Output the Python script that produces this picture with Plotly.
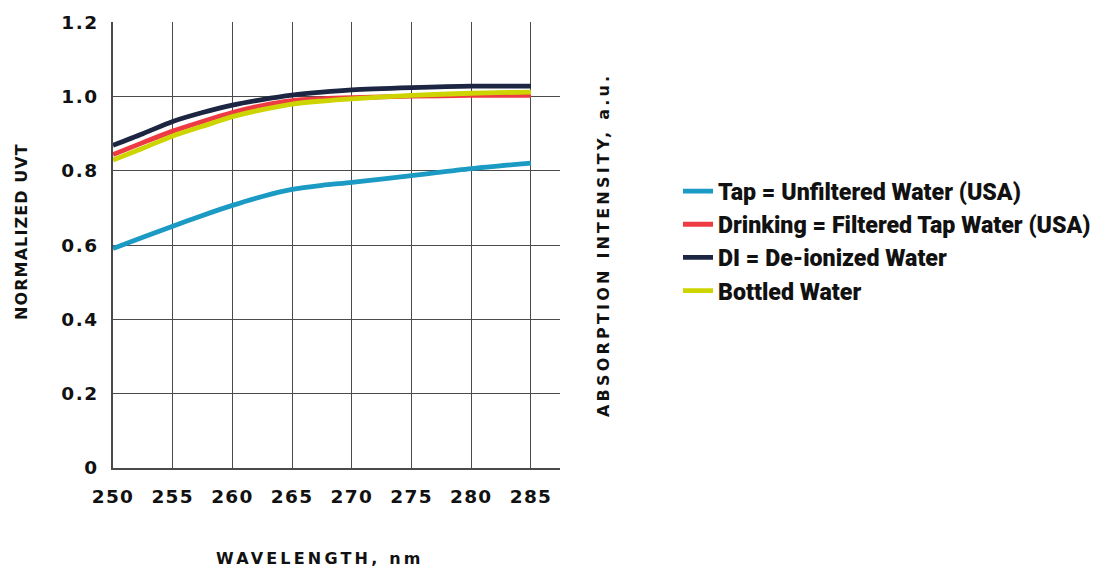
import plotly.graph_objects as go

wavelength = [250, 252.5, 255, 257.5, 260, 262.5, 265, 267.5, 270, 275, 280, 285]
tap = [0.591, 0.621, 0.651, 0.680, 0.707, 0.731, 0.750, 0.761, 0.769, 0.787, 0.806, 0.821]
drinking = [0.844, 0.876, 0.907, 0.933, 0.957, 0.976, 0.989, 0.994, 0.997, 1.001, 1.003, 1.003]
di = [0.869, 0.900, 0.933, 0.957, 0.977, 0.992, 1.004, 1.012, 1.018, 1.024, 1.028, 1.028]
bottled = [0.829, 0.861, 0.894, 0.920, 0.946, 0.965, 0.980, 0.988, 0.994, 1.003, 1.009, 1.012]

series_names = [
    "Tap = Unfiltered Water (USA)",
    "Drinking = Filtered Tap Water (USA)",
    "DI = De-ionized Water",
    "Bottled Water",
]
series_values = [tap, drinking, di, bottled]
series_colors = ["#1b9ac4", "#ee3b43", "#1c2541", "#cdd400"]

x_ticks = [250, 255, 260, 265, 270, 275, 280, 285]
y_ticks = [0, 0.2, 0.4, 0.6, 0.8, 1.0, 1.2]
y_tick_labels = ["0", "0.2", "0.4", "0.6", "0.8", "1.0", "1.2"]


def spaced(txt, px):
    return '<span style="letter-spacing:%spx">%s</span>' % (px, txt)


fig = go.Figure()
for name, vals, col in zip(series_names, series_values, series_colors):
    fig.add_trace(go.Scatter(
        x=wavelength, y=vals, name=name, mode="lines",
        line=dict(color=col, width=4.8, shape="spline", smoothing=0.8),
    ))

W, H = 1096, 569
L, R, T, B = 113, 536, 22, 101
pw, ph = W - L - R, H - T - B


def px_x(p):
    return (p - L) / pw


def px_y(p):
    return (H - B - p) / ph


grid_col = "#4a4a4a"
tick_font = dict(family="DejaVu Sans", size=18.5, color="#111111", weight="bold")
title_font = dict(family="DejaVu Sans", size=16, color="#111111", weight="bold")

fig.update_layout(
    width=W, height=H,
    margin=dict(l=L, r=R, t=T, b=B, pad=0),
    paper_bgcolor="white", plot_bgcolor="white",
    xaxis=dict(
        range=[250, 287.43], tickvals=x_ticks,
        ticktext=[spaced(str(v), 1.3) for v in x_ticks],
        showgrid=True, gridcolor=grid_col, gridwidth=1.2,
        showline=True, linecolor=grid_col, linewidth=1.5,
        zeroline=False, ticks="", tickfont=tick_font, ticklabelstandoff=11,
        automargin=False,
    ),
    yaxis=dict(
        range=[0, 1.2008], tickvals=y_ticks,
        ticktext=[spaced(t, 1.5) for t in y_tick_labels],
        showgrid=True, gridcolor=grid_col, gridwidth=1.2,
        showline=True, linecolor=grid_col, linewidth=1.5,
        zeroline=False, ticks="", tickfont=tick_font, ticklabelstandoff=9,
        automargin=False,
    ),
    legend=dict(
        xref="container", yref="container",
        x=678 / W, y=(H - 241) / H, xanchor="left", yanchor="middle",
        font=dict(family="Roboto", size=23.2, color="#111111", weight=900),
        bgcolor="rgba(0,0,0,0)", borderwidth=0,
        tracegroupgap=0,
    ),
    showlegend=True,
)

fig.add_annotation(
    text=spaced("NORMALIZED UVT", 1.1), xref="paper", yref="paper",
    x=px_x(21), y=px_y(232), xanchor="center", yanchor="middle",
    textangle=-90, showarrow=False, font=title_font,
)
fig.add_annotation(
    text=spaced("ABSORPTION INTENSITY, a.u.", 3.2), xref="paper", yref="paper",
    x=px_x(603), y=px_y(245), xanchor="center", yanchor="middle",
    textangle=-90, showarrow=False, font=title_font,
)
fig.add_annotation(
    text=spaced("WAVELENGTH, nm", 3.2), xref="paper", yref="paper",
    x=px_x(320), y=px_y(558), xanchor="center", yanchor="middle",
    showarrow=False, font=title_font,
)

fig.write_html(
    "out.html",
    config={"displayModeBar": False},
    post_script="document.body.style.margin='0px';",
)
